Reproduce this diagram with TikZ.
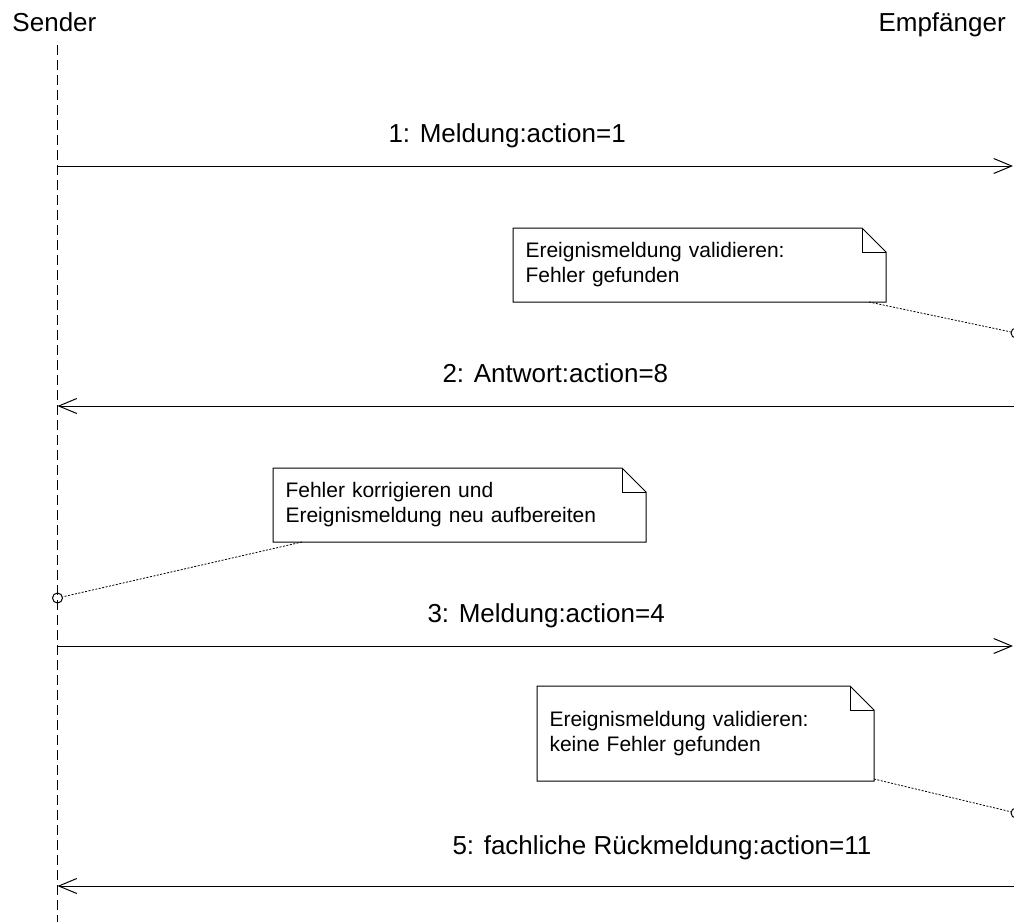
\documentclass[tikz,border=0pt]{standalone}
\usepackage{fontspec}
\setmainfont{Liberation Sans}
\usetikzlibrary{arrows.meta,calc}
\begin{document}
\begin{tikzpicture}[x=1pt,y=-1pt,
  line width=1pt,
  msg/.style={-{Straight Barb[length=18pt,width=15pt,line width=1pt]}},
  lbl/.style={anchor=base west,inner sep=0pt,font=\fontsize{26}{30}\selectfont},
  notebox/.style={anchor=north west,inner xsep=12pt,inner ysep=0pt,align=left,
    font=\fontsize{21}{25}\selectfont},
  notelink/.style={line width=0.8pt,dash pattern=on 2pt off 1.5pt},
  anchorcirc/.style={circle,draw,line width=1pt,minimum size=10pt,inner sep=0pt},
  lifeline/.style={dash pattern=on 10pt off 5pt}]
\useasboundingbox (0,0) rectangle (1014,922);

% heads
\node[lbl] (sender) at (12,31) {Sender};
\node[lbl] (empf) at (878,31) {Empfänger};

% sender lifeline
\coordinate (stop) at (57.5,45);
\coordinate (sbot) at (57.5,922);
\draw[lifeline] (stop) -- (sbot);

% messages
\coordinate (s1) at (57.5,166);  \coordinate (r1) at (1013,166);
\coordinate (s2) at (57.5,406);  \coordinate (r2) at (1014,406);
\coordinate (s3) at (57.5,646);  \coordinate (r3) at (1013,646);
\coordinate (s5) at (57.5,886);  \coordinate (r5) at (1014,886);
\draw[msg] (s1) -- (r1);
\draw[msg] (r2) -- (s2);
\draw[msg] (s3) -- (r3);
\draw[msg] (r5) -- (s5);
\node[lbl] (l1) at (388,142) {1: Meldung:action=1};
\node[lbl] (l2) at (442,382) {2: Antwort:action=8};
\node[lbl] (l3) at (427,622) {3: Meldung:action=4};
\node[lbl] (l5) at (452,854) {5: fachliche Rückmeldung:action=11};

% notes
\node[notebox,text width=348pt,minimum height=73pt] (n1) at (513,228)
  {Ereignismeldung validieren:\\Fehler gefunden};
\node[notebox,text width=348pt,minimum height=73pt] (n2) at (273,468)
  {Fehler korrigieren und\\Ereignismeldung neu aufbereiten};
\node[notebox,text width=312pt,minimum height=94pt] (n3) at (537,686)
  {Ereignismeldung validieren:\\keine Fehler gefunden};
\foreach \n in {n1,n2,n3}{
  \draw[line join=miter] (\n.north west) -- ($(\n.north east)+(-24,0)$)
    -- ($(\n.north east)+(0,24)$) -- (\n.south east) -- (\n.south west) -- cycle;
  \draw ($(\n.north east)+(-24,0)$) -- ++(0,24) -- ++(24,0);
}

% note anchors
\node[anchorcirc] (c1) at (1016,333) {};
\node[anchorcirc] (c2) at (57.5,598) {};
\node[anchorcirc] (c3) at (1016,813) {};
\coordinate (p1) at ($(n1.south east)+(-17,0)$);
\coordinate (p2) at ($(n2.south west)+(29,0)$);
\coordinate (p3) at ($(n3.south east)+(0,-2)$);
\draw[notelink] (p1) -- (c1);
\draw[notelink] (p2) -- (c2);
\draw[notelink] (p3) -- (c3);
\end{tikzpicture}
\end{document}
